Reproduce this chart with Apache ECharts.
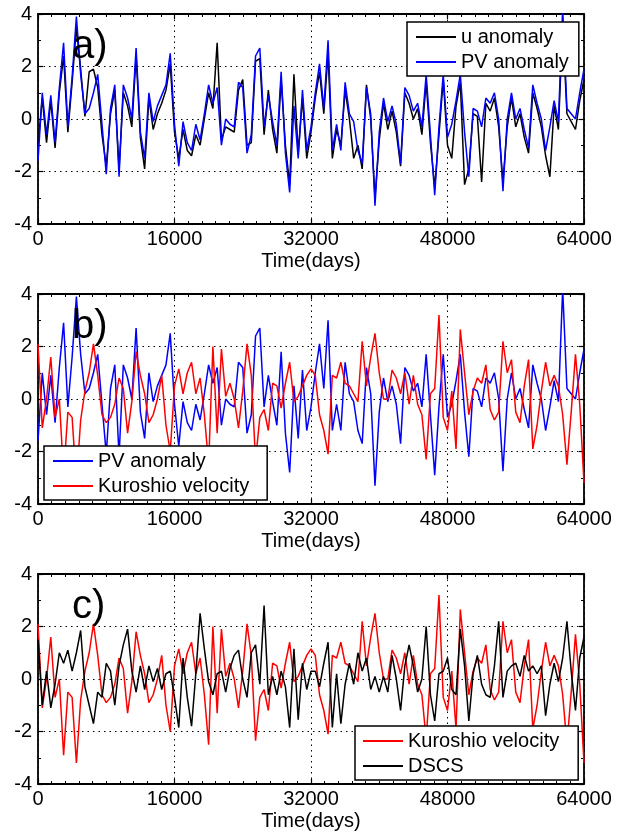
<!DOCTYPE html>
<html><head><meta charset="utf-8">
<script src="https://cdn.jsdelivr.net/npm/echarts@6/dist/echarts.min.js"></script>
<style>html,body{margin:0;padding:0;background:#fff}#c{width:625px;height:832px}</style>
</head><body><div id="c"></div>
<script>
// ---- data ----
const timeDays = [0,500,1000,1500,2000,2500,3000,3500,4000,4500,5000,5500,6000,6500,7000,7500,8000,8500,9000,9500,10000,10500,11000,11500,12000,12500,13000,13500,14000,14500,15000,15500,16000,16500,17000,17500,18000,18500,19000,19500,20000,20500,21000,21500,22000,22500,23000,23500,24000,24500,25000,25500,26000,26500,27000,27500,28000,28500,29000,29500,30000,30500,31000,31500,32000,32500,33000,33500,34000,34500,35000,35500,36000,36500,37000,37500,38000,38500,39000,39500,40000,40500,41000,41500,42000,42500,43000,43500,44000,44500,45000,45500,46000,46500,47000,47500,48000,48500,49000,49500,50000,50500,51000,51500,52000,52500,53000,53500,54000,54500,55000,55500,56000,56500,57000,57500,58000,58500,59000,59500,60000,60500,61000,61500,62000,62500,63000,63500,64000];

const uAnomaly = [-1.0,0.8,-0.9,0.7,-1.1,1.0,2.4,-0.5,1.4,3.5,1.9,0.1,1.8,1.9,1.2,-0.6,-1.8,0.2,1.1,-1.9,1.0,0.5,-0.3,2.4,-0.7,-1.9,0.8,-0.4,0.2,0.6,1.1,2.1,-0.5,-1.5,-0.4,-1.2,-1.4,-0.6,-1.0,0.0,1.0,0.4,2.9,-0.8,-0.3,-0.4,-0.5,1.1,1.5,-1.0,-0.9,2.2,2.3,-0.6,1.1,-0.4,-1.3,1.5,-1.0,-2.5,1.7,-1.3,0.8,-1.5,-0.5,0.8,1.8,0.2,2.5,-1.5,-0.4,-1.0,1.1,0.0,-1.5,-1.0,-1.9,1.3,0.0,-3.0,-0.8,0.6,-0.4,0.3,-0.5,-1.8,1.0,0.6,0.0,0.4,-0.6,1.4,-0.9,-2.6,-0.6,1.5,-1.0,-1.5,0.5,1.4,-2.5,-1.9,0.2,0.1,-2.4,0.6,0.3,0.8,-0.3,-2.4,-0.3,0.8,-0.3,0.2,-0.7,-1.3,1.0,0.4,-0.3,-1.4,-2.2,0.5,-0.4,3.6,0.2,-0.1,-0.4,0.7,1.5];

const pvAnomaly = [-1.6,1.0,-0.6,0.9,-0.9,1.2,2.9,-0.3,1.6,3.9,1.7,0.2,0.4,1.0,1.7,-0.2,-2.1,0.4,1.3,-2.2,1.3,0.8,0.0,2.7,-0.5,-1.5,1.0,-0.1,0.5,0.9,1.3,2.5,-0.2,-1.8,-0.1,-0.9,-1.2,-0.2,-0.8,0.2,1.3,0.6,1.2,-1.0,0.0,-0.2,-0.3,1.4,1.2,-1.3,-0.6,2.4,2.7,-0.3,0.9,-0.1,-1.0,1.8,-1.3,-2.8,0.5,-1.5,1.1,-1.2,-0.3,1.0,2.1,0.4,3.0,-1.2,-0.2,-1.2,1.4,0.2,-0.1,-1.2,-1.7,1.2,0.2,-3.3,-0.5,0.8,-0.1,0.5,-0.2,-1.7,1.2,0.9,0.3,0.6,-0.3,1.7,-0.6,-2.9,-0.3,1.7,-0.7,-0.2,0.7,1.7,-0.5,-2.2,0.4,0.3,-0.3,0.8,0.6,1.0,0.0,-2.75,0.0,1.0,0.0,0.4,-0.4,-1.1,1.3,0.6,0.0,-1.2,-0.3,0.7,-0.1,4.2,0.4,0.2,0.0,1.0,1.9];

const kuroshioVelocity = [2.1,-1.1,0.0,1.6,-0.7,0.0,-2.9,-0.5,-0.7,-3.2,-0.8,0.3,1.0,2.1,0.9,-0.6,-0.9,-0.7,-0.2,0.8,0.4,-1.3,-0.1,1.8,0.9,0.2,-0.9,-0.6,0.0,0.9,-1.0,-2.0,0.5,1.15,0.2,1.0,1.4,0.2,0.8,-0.6,-2.5,2.0,-1.3,1.9,0.1,0.6,0.0,-1.1,0.3,2.1,0.9,-2.35,-0.7,-0.4,-1.2,0.6,0.5,-0.35,0.6,1.4,-0.1,0.1,0.5,0.9,1.15,0.9,-0.6,-1.2,-2.1,0.9,0.8,1.4,0.6,0.5,0.2,-0.1,2.2,0.5,1.6,2.5,1.0,0.0,0.0,1.1,0.8,0.2,1.0,-0.2,0.9,-0.2,-0.6,-2.3,0.2,0.4,3.2,-0.7,-1.2,0.3,-1.9,2.65,1.0,-0.6,0.3,0.8,0.6,1.3,-0.4,-0.8,-0.5,2.2,1.0,1.5,-0.5,-0.9,0.5,1.5,-1.9,-1.0,0.3,1.4,0.5,0.9,0.5,-0.6,-2.5,-0.5,1.7,-0.2,-3.2];

const dscs = [1.5,-1.0,0.3,-1.1,-0.2,1.0,0.6,1.1,0.3,1.0,1.85,-0.3,-1.0,-1.7,-0.5,-0.7,0.6,0.3,-1.0,0.5,1.3,1.9,0.3,-0.5,0.5,-0.4,0.5,-0.1,0.4,-0.4,0.2,0.3,-0.7,-1.85,0.8,-0.7,-1.8,0.2,2.5,1.15,-0.1,-0.6,0.2,0.3,-0.5,0.4,0.9,1.1,0.0,-0.7,1.0,1.3,-0.2,2.8,-0.6,0.1,-0.6,0.3,-0.3,-1.85,1.15,-1.55,0.6,-0.4,0.3,0.3,-0.3,0.6,1.4,-1.85,0.2,-1.7,-0.2,0.6,-0.2,1.0,0.3,0.8,-0.4,0.1,-0.5,0.1,-0.5,0.9,0.0,-1.2,0.5,1.3,0.5,-0.5,0.0,2.0,-0.6,-1.6,0.2,0.3,0.8,-0.4,-0.6,1.9,0.5,-1.6,0.2,0.9,-0.2,-0.6,-0.7,0.5,2.2,-0.7,0.3,0.5,0.6,0.1,0.9,0.3,0.5,0.2,0.5,-1.4,-0.2,0.6,-0.1,0.8,2.2,0.3,-1.2,0.8,1.6];

const xTickValues = [0,16000,32000,48000,64000];
const yTickValues = [-4,-2,0,2,4];
const panelLabels = ['a)','b)','c)'];
const xAxisTitle = 'Time(days)';

// ---- chart ----
const FONT = '"Liberation Sans", Arial, Helvetica, sans-serif';
const pair = vals => timeDays.map((t, i) => [t, vals[i]]);
const gridTops = [14, 294, 574];
const grids = gridTops.map(t => ({left: 38, top: t, width: 546, height: 210, containLabel: false}));

const xAxes = [], yAxes = [];
gridTops.forEach((_, g) => {
  const baseX = {
    type: 'value', gridIndex: g, min: xTickValues[0], max: xTickValues[xTickValues.length - 1],
    interval: xTickValues[1] - xTickValues[0],
    axisLine: {show: true, onZero: false, lineStyle: {color: '#000', width: 1.8}},
    axisTick: {show: true, inside: true, length: 5, lineStyle: {color: '#000', width: 1.2}},
    minorTick: {show: true, splitNumber: 10, length: 3, lineStyle: {color: '#000', width: 1}},
    splitLine: {show: false}
  };
  xAxes.push(Object.assign({}, baseX, {
    position: 'bottom',
    name: xAxisTitle, nameLocation: 'middle', nameGap: 27,
    nameTextStyle: {fontFamily: FONT, fontSize: 20, color: '#000'},
    axisLabel: {show: true, margin: 5, fontFamily: FONT, fontSize: 20, color: '#000',
      showMinLabel: true, showMaxLabel: true, formatter: v => String(v)},
    splitLine: {show: true, lineStyle: {color: '#000', width: 1, type: [1.5, 4]}}
  }));
  xAxes.push(Object.assign({}, baseX, {position: 'top', axisLabel: {show: false}}));
  const baseY = {
    type: 'value', gridIndex: g, min: yTickValues[0], max: yTickValues[yTickValues.length - 1],
    interval: yTickValues[1] - yTickValues[0],
    axisLine: {show: true, onZero: false, lineStyle: {color: '#000', width: 1.8}},
    axisTick: {show: true, inside: true, length: 5, lineStyle: {color: '#000', width: 1.2}},
    minorTick: {show: true, splitNumber: 2, length: 3, lineStyle: {color: '#000', width: 1}},
    splitLine: {show: false}
  };
  yAxes.push(Object.assign({}, baseY, {
    position: 'left',
    axisLabel: {show: true, margin: 6, fontFamily: FONT, fontSize: 20, color: '#000',
      showMinLabel: true, showMaxLabel: true},
    splitLine: {show: true, lineStyle: {color: '#000', width: 1, type: [1.5, 4]}}
  }));
  yAxes.push(Object.assign({}, baseY, {position: 'right', axisLabel: {show: false}}));
});

function mkSeries(name, vals, g, color) {
  return {
    name, type: 'line', xAxisIndex: 2 * g, yAxisIndex: 2 * g,
    data: pair(vals), showSymbol: false, symbol: 'none', clip: true,
    lineStyle: {color, width: 1.5}, itemStyle: {color}, animation: false
  };
}

const series = [
  mkSeries('u anomaly', uAnomaly, 0, '#000000'),
  mkSeries('PV anomaly', pvAnomaly, 0, '#0000ff'),
  mkSeries('PV anomaly', pvAnomaly, 1, '#0000ff'),
  mkSeries('Kuroshio velocity', kuroshioVelocity, 1, '#ff0000'),
  mkSeries('Kuroshio velocity', kuroshioVelocity, 2, '#ff0000'),
  mkSeries('DSCS', dscs, 2, '#000000')
];

const legendBase = {
  orient: 'vertical', icon: 'rect', itemWidth: 40, itemHeight: 2, itemGap: 5, itemTextGap: 6,
  textStyle: {fontFamily: FONT, fontSize: 20, color: '#000'},
  borderColor: '#000', borderWidth: 1.5, backgroundColor: '#fff', borderRadius: 0,
  selectedMode: false, z: 10
};
const legends = [
  Object.assign({}, legendBase, {left: 407, top: 22, padding: [5, 10, 4, 9], data: ['u anomaly', 'PV anomaly']}),
  Object.assign({}, legendBase, {left: 44, top: 446, padding: [5, 18, 4, 9], data: ['PV anomaly', 'Kuroshio velocity']}),
  Object.assign({}, legendBase, {left: 355, top: 726, padding: [5, 19, 4, 8], data: ['Kuroshio velocity', 'DSCS']})
];

const labelPos = [[72, 27], [72, 307], [72, 587]];
const graphic = panelLabels.map((txt, i) => ({
  type: 'text', left: labelPos[i][0], top: labelPos[i][1], z: 5,
  style: {text: txt, font: '40px ' + FONT, fill: '#000'}
}));

const chart = echarts.init(document.getElementById('c'), null, {renderer: 'canvas'});
chart.setOption({
  animation: false,
  backgroundColor: '#fff',
  grid: grids, xAxis: xAxes, yAxis: yAxes, series, legend: legends, graphic
});
</script></body></html>
